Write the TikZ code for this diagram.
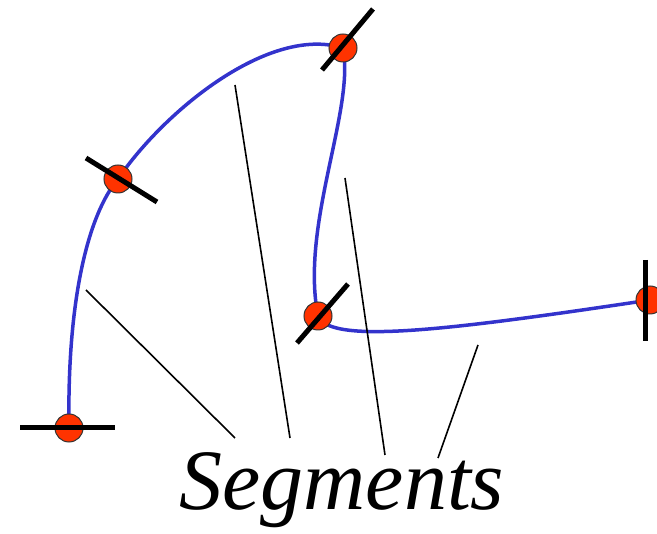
\documentclass[tikz,border=0pt]{standalone}
\usepackage{fontspec}
\setmainfont{Liberation Serif}
\definecolor{curveblue}{RGB}{51,51,204}
\definecolor{knotred}{RGB}{255,51,0}
\tikzset{
  splinecurve/.style={draw=curveblue,line width=3.5pt},
  knot/.style={circle,fill=knotred,draw=black!80,line width=1pt,minimum size=28pt,inner sep=0pt},
  normalbar/.style={draw=black,line width=5pt},
  pointer/.style={draw=black,line width=1.6pt},
}
\begin{document}
\begin{tikzpicture}[x=1pt,y=-1pt]
\useasboundingbox (0,0) rectangle (657,534);
\clip (0,0) rectangle (657,534);
% knot positions
\coordinate (k1) at (69,428);
\coordinate (k2) at (118,179);
\coordinate (k3) at (343,48);
\coordinate (k4) at (318,316);
\coordinate (k5) at (650,300);
% curve
\draw[splinecurve] (k1) .. controls (67,300) and (88,215) .. (k2)
  .. controls (165,110) and (270,25) .. (k3)
  .. controls (355,110) and (300,225) .. (k4)
  .. controls (330,345) and (450,330) .. (k5);
% knots
\foreach \k in {1,...,5} \node[knot] (n\k) at (k\k) {};
% normal bars
\coordinate (a1) at (20,428); \coordinate (b1) at (115,428);
\coordinate (a2) at (86,158); \coordinate (b2) at (157,202);
\coordinate (a3) at (322,70); \coordinate (b3) at (373,9);
\coordinate (a4) at (297,343); \coordinate (b4) at (348,284);
\coordinate (a5) at (645,260); \coordinate (b5) at (645,341);
\foreach \k in {1,...,5} \draw[normalbar] (a\k) -- (b\k);
% label
\node[anchor=base,inner sep=0pt] (lbl) at (342,510) {\fontsize{86}{90}\selectfont\itshape Segments};
% pointers
\coordinate (s1) at (86,290); \coordinate (e1) at (235,438);
\coordinate (s2) at (235,85); \coordinate (e2) at (290,438);
\coordinate (s3) at (345,178); \coordinate (e3) at (385,455);
\coordinate (s4) at (478,345); \coordinate (e4) at (438,458);
\foreach \k in {1,...,4} \draw[pointer] (s\k) -- (e\k);
\end{tikzpicture}
\end{document}
